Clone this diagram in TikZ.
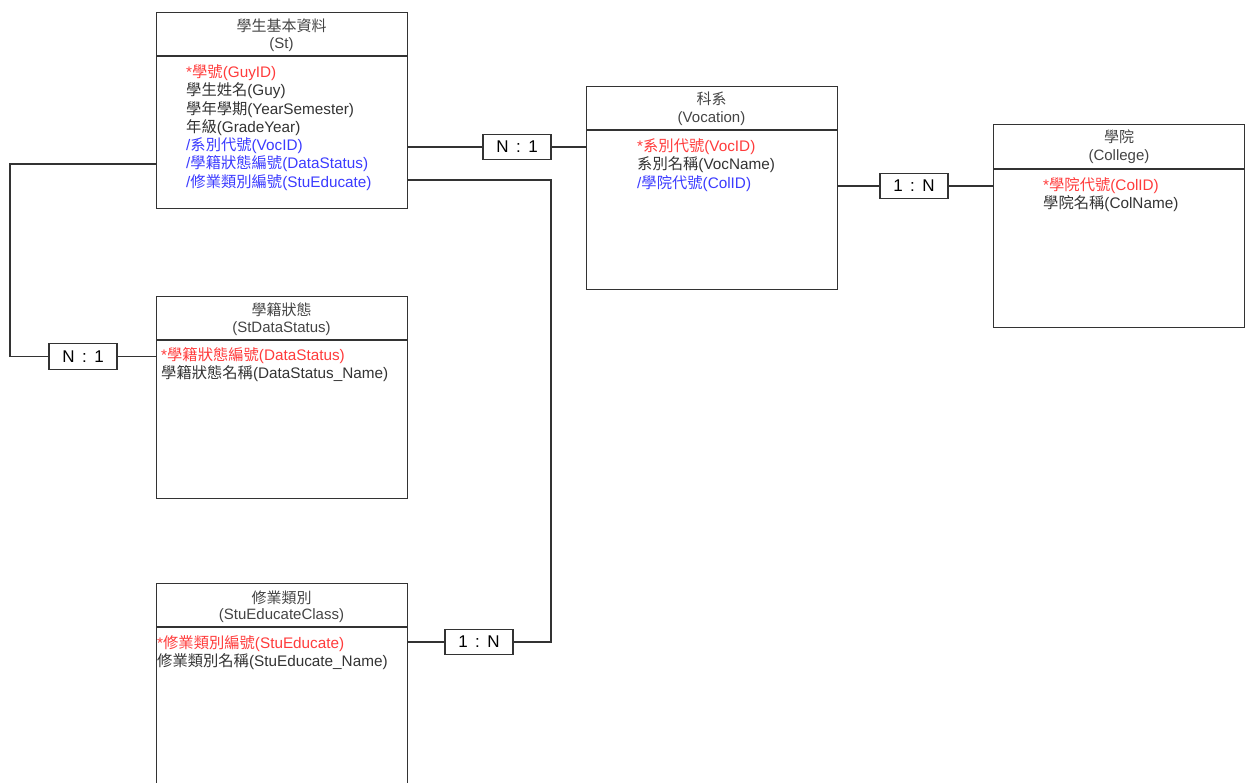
\documentclass[tikz,border=0pt]{standalone}
\usepackage{fontspec}
\setmainfont{Liberation Sans}
\newfontfamily\zhfont{Noto Sans CJK TC}
\newcommand\zh[1]{{\zhfont #1}}
\newcommand\ratio[2]{#1\hspace{7.5pt}:\hspace{7.5pt}#2}
\definecolor{linec}{HTML}{333333}
\definecolor{txtc}{HTML}{333333}
\definecolor{ttlc}{HTML}{444444}
\definecolor{keyred}{HTML}{FF3B3B}
\definecolor{fkblue}{HTML}{3B3BFF}
\begin{document}
\begin{tikzpicture}[x=1pt,y=-1pt,
  ent/.style={draw=linec, line width=1.1pt, rectangle, inner sep=0pt, minimum width=251pt, anchor=north west},
  divline/.style={draw=linec, line width=1.1pt},
  ttl/.style={anchor=base, inner sep=0pt, text=ttlc, font=\fontsize{15}{18}\selectfont},
  fld/.style={anchor=base west, inner sep=0pt, text=txtc, font=\fontsize{15.3}{18}\selectfont},
  pk/.style={fld, text=keyred},
  fk/.style={fld, text=fkblue},
  card/.style={draw=linec, line width=1.1pt, fill=white, rectangle, minimum width=68pt, minimum height=25.5pt, inner sep=0pt, text=black, font=\fontsize{17}{18}\selectfont},
  conn/.style={draw=linec, line width=1.1pt}]
\useasboundingbox (0,0) rectangle (1253,783);
\clip (0,0) rectangle (1253,783);

% ---------- entity boxes ----------
\node[ent, minimum height=196pt] (St) at (156,12) {};
\node[ent, minimum height=203pt] (Voc) at (586,86) {};
\node[ent, minimum height=203pt] (Col) at (993,124) {};
\node[ent, minimum height=202pt] (SDS) at (156,296) {};
\node[ent, minimum height=215pt] (SEC) at (156,583) {};

\draw[divline] (St.west |- 0,56) -- (St.east |- 0,56);
\draw[divline] (Voc.west |- 0,130) -- (Voc.east |- 0,130);
\draw[divline] (Col.west |- 0,169) -- (Col.east |- 0,169);
\draw[divline] (SDS.west |- 0,340) -- (SDS.east |- 0,340);
\draw[divline] (SEC.west |- 0,627) -- (SEC.east |- 0,627);

% ---------- St ----------
\node[ttl] (Stt1) at (281.5,31.5) {\zh{學生基本資料}};
\node[ttl] (Stt2) at (281.5,49) {(St)};
\node[pk] (Stf1) at (186,77.5) {*\zh{學號}(GuyID)};
\node[fld] (Stf2) at (186,95.8) {\zh{學生姓名}(Guy)};
\node[fld] (Stf3) at (186,114.1) {\zh{學年學期}(YearSemester)};
\node[fld] (Stf4) at (186,132.4) {\zh{年級}(GradeYear)};
\node[fk] (Stf5) at (186,150.7) {/\zh{系別代號}(VocID)};
\node[fk] (Stf6) at (186,169) {/\zh{學籍狀態編號}(DataStatus)};
\node[fk] (Stf7) at (186,187.3) {/\zh{修業類別編號}(StuEducate)};

% ---------- Vocation ----------
\node[ttl] (Vt1) at (711.5,105) {\zh{科系}};
\node[ttl] (Vt2) at (711.5,122.5) {(Vocation)};
\node[pk] (Vf1) at (637,151.5) {*\zh{系別代號}(VocID)};
\node[fld] (Vf2) at (637,169.8) {\zh{系別名稱}(VocName)};
\node[fk] (Vf3) at (637,188.1) {/\zh{學院代號}(ColID)};

% ---------- College ----------
\node[ttl] (Ct1) at (1119,143) {\zh{學院}};
\node[ttl] (Ct2) at (1119,161) {(College)};
\node[pk] (Cf1) at (1043,190.5) {*\zh{學院代號}(ColID)};
\node[fld] (Cf2) at (1043,208.8) {\zh{學院名稱}(ColName)};

% ---------- StDataStatus ----------
\node[ttl] (Dt1) at (281.5,316) {\zh{學籍狀態}};
\node[ttl] (Dt2) at (281.5,333) {(StDataStatus)};
\node[pk] (Df1) at (161,360.5) {*\zh{學籍狀態編號}(DataStatus)};
\node[fld] (Df2) at (161,378.8) {\zh{學籍狀態名稱}(DataStatus\_Name)};

% ---------- StuEducateClass ----------
\node[ttl] (Et1) at (281.5,603) {\zh{修業類別}};
\node[ttl] (Et2) at (281.5,619.5) {(StuEducateClass)};
\node[pk] (Ef1) at (157,648.5) {*\zh{修業類別編號}(StuEducate)};
\node[fld] (Ef2) at (157,666.8) {\zh{修業類別名稱}(StuEducate\_Name)};

% ---------- cardinality labels ----------
\node[card] (cA) at (517,147) {\ratio{N}{1}};
\node[card] (cB) at (914,186) {\ratio{1}{N}};
\node[card] (cC) at (83,356.5) {\ratio{N}{1}};
\node[card] (cD) at (479,642) {\ratio{1}{N}};

% ---------- connectors ----------
\draw[conn] (St.east |- cA) -- (cA.west);
\draw[conn] (cA.east) -- (Voc.west |- cA);
\draw[conn] (Voc.east |- cB) -- (cB.west);
\draw[conn] (cB.east) -- (Col.west |- cB);
\coordinate (jL) at (10,164);
\draw[conn] (St.west |- jL) -- (jL) |- (cC.west);
\draw[conn] (cC.east) -- (SDS.west |- cC);
\coordinate (jR) at (551,180);
\draw[conn] (St.east |- jR) -- (jR) |- (cD.east);
\draw[conn] (cD.west) -- (SEC.east |- cD);
\end{tikzpicture}
\end{document}
